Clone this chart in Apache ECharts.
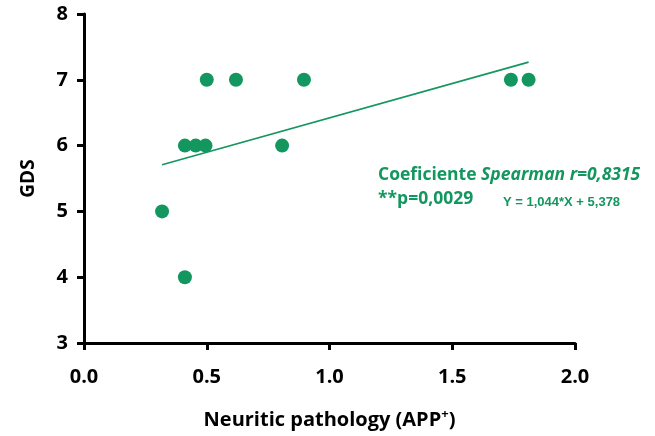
<!DOCTYPE html>
<html><head><meta charset="utf-8">
<script src="https://cdn.jsdelivr.net/npm/echarts@6/dist/echarts.min.js"></script>
<style>html,body{margin:0;padding:0;background:#fff}#c{width:655px;height:436px}</style>
</head><body><div id="c"></div>
<script>
const xValues = [0.318, 0.411, 0.411, 0.455, 0.495, 0.500, 0.619, 0.807, 0.896, 1.739, 1.811];
const yValues = [5, 4, 6, 6, 6, 7, 7, 6, 7, 7, 7];
const slope = 1.044;
const intercept = 5.378;
const xTicks = [0.0, 0.5, 1.0, 1.5, 2.0];
const yTicks = [3, 4, 5, 6, 7, 8];

const green = '#14965f';
const font = 'Open Sans';
const pts = xValues.map((x, i) => [x, yValues[i]]);
const xMin = Math.min(...xValues), xMax = Math.max(...xValues);
const fit = [[xMin, slope * xMin + intercept], [xMax, slope * xMax + intercept]];

const chart = echarts.init(document.getElementById('c'));
chart.setOption({
  animation: false,
  grid: { left: 84, right: 80, top: 14, bottom: 93 },
  xAxis: {
    type: 'value', min: 0, max: 2, interval: 0.5,
    axisLine: { show: true, lineStyle: { color: '#000', width: 3 } },
    axisTick: { show: true, length: 7, lineStyle: { color: '#000', width: 3 } },
    splitLine: { show: false },
    axisLabel: { color: '#000', fontFamily: font, fontWeight: 'bold', fontSize: 20, margin: 24,
      formatter: v => xTicks.find(t => Math.abs(t - v) < 1e-9).toFixed(1) },
    name: 'Neuritic pathology (APP{sup|+})',
    nameLocation: 'middle', nameGap: 65,
    nameTextStyle: { color: '#000', fontFamily: font, fontWeight: 'bold', fontSize: 20,
      rich: { sup: { fontFamily: font, fontWeight: 'bold', fontSize: 13, verticalAlign: 'top', padding: [0,0,12,0], color: '#000' } } }
  },
  yAxis: {
    type: 'value', min: 3, max: 8, interval: 1,
    axisLine: { show: true, lineStyle: { color: '#000', width: 3 } },
    axisTick: { show: true, length: 7, lineStyle: { color: '#000', width: 3 } },
    splitLine: { show: false },
    axisLabel: { color: '#000', fontFamily: font, fontWeight: 'bold', fontSize: 20, margin: 16,
      formatter: v => String(yTicks.find(t => t === v)) },
    name: 'GDS', nameLocation: 'middle', nameGap: 46, nameRotate: 90,
    nameTextStyle: { color: '#000', fontFamily: font, fontWeight: 'bold', fontSize: 19 }
  },
  series: [
    { type: 'line', data: fit, symbol: 'none', lineStyle: { color: green, width: 1.6 }, z: 1 },
    { type: 'scatter', data: pts, symbolSize: 14, itemStyle: { color: green, opacity: 1 }, z: 2 }
  ],
  graphic: [
    { type: 'text', left: 378, top: 166, style: { rich: {
        a: { fontFamily: font, fontWeight: 'bold', fontSize: 17.5, fill: green },
        b: { fontFamily: font, fontWeight: 'bold', fontStyle: 'italic', fontSize: 17.5, fill: green } },
        text: '{a|Coeficiente }{b|Spearman r=0,8315}' } },
    { type: 'text', left: 378, top: 190, style: { text: '**p=0,0029', fontFamily: font, fontWeight: 'bold', fontSize: 17.5, fill: green } },
    { type: 'text', left: 503, top: 196, style: { text: 'Y = 1,044*X + 5,378', fontFamily: 'Liberation Sans', fontWeight: 'bold', fontSize: 13, fill: green } }
  ]
});
</script></body></html>
